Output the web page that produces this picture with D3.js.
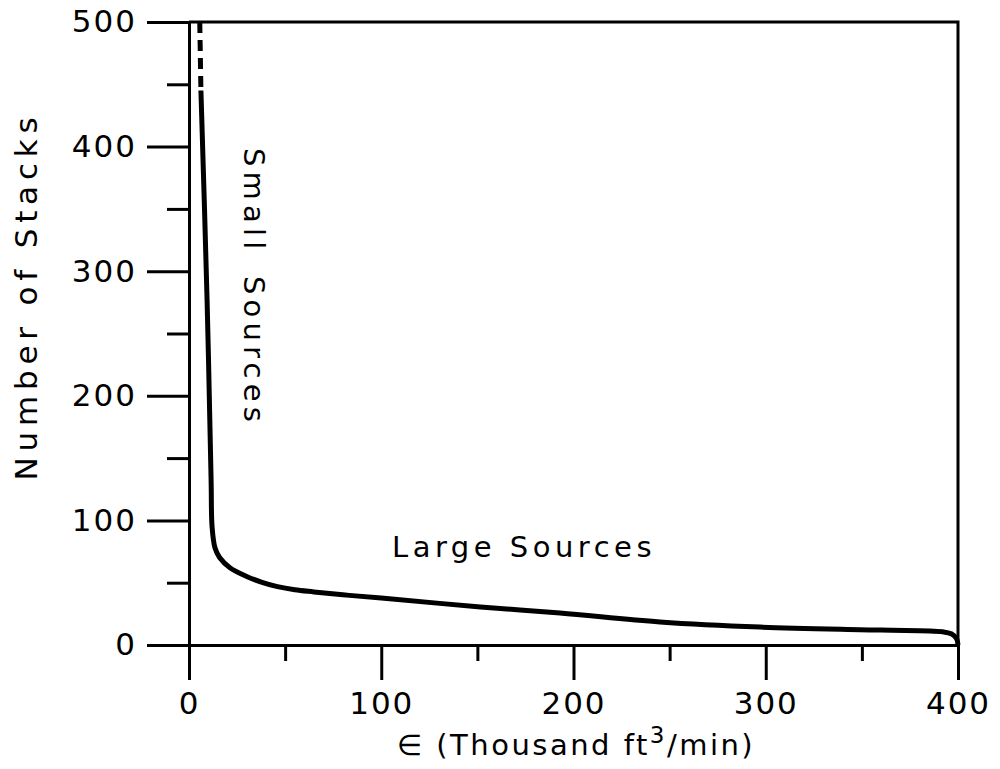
<!DOCTYPE html>
<html>
<head>
<meta charset="utf-8">
<script src="https://cdn.jsdelivr.net/npm/d3@7"></script>
<style>
  body { margin: 0; background: #fff; }
  text { font-family: 'DejaVu Sans', sans-serif; fill: #000; }
</style>
</head>
<body>
<div id="chart"></div>
<script>
;(function () {
  // data: emission rate (thousand ft3/min) vs number of stacks
  var xMajor = [0, 100, 200, 300, 400]
  var xMinor = [50, 150, 250, 350]
  var yMajor = [0, 100, 200, 300, 400, 500]
  var yMinor = [50, 150, 250, 350, 450]

  // dashed part (extrapolated top)
  var dashedEps = [5.6, 6.2]
  var dashedStacks = [500, 445]

  // solid curve
  var curveEps = [6.2, 9.4, 11.5, 12, 13.5, 16, 21.3, 30, 38, 46, 55, 65, 80, 100,
    151.6, 193, 245, 297, 360, 392, 396.5, 399.3, 400]
  var curveStacks = [445, 277, 132, 95, 78, 70, 62, 55, 50.3, 46.8, 44.3, 42.6, 40.3, 37.7,
    30.5, 25.7, 18.5, 14.4, 12, 10.6, 9, 5, 0]

  var width = 1000, height = 769
  var margin = { top: 22, left: 189, right: 42, bottom: 124 }

  var svg = d3.select('#chart').append('svg')
    .attr('width', width).attr('height', height)

  var x = d3.scaleLinear().domain([0, 400]).range([margin.left, width - margin.right])
  var y = d3.scaleLinear().domain([0, 500]).range([height - margin.bottom, margin.top])

  // axes
  svg.append('g').attr('transform', `translate(${x(0)},0)`)
    .call(d3.axisLeft(y).tickValues(yMajor).tickSize(42).tickSizeOuter(0).tickPadding(10))
  svg.append('g').attr('transform', `translate(${x(0)},0)`)
    .call(d3.axisLeft(y).tickValues(yMinor).tickSize(22).tickSizeOuter(0).tickFormat(''))

  svg.append('g').attr('transform', `translate(0,${y(0)})`)
    .call(d3.axisBottom(x).tickValues(xMajor).tickSize(35).tickSizeOuter(0).tickPadding(12))
  svg.append('g').attr('transform', `translate(0,${y(0)})`)
    .call(d3.axisBottom(x).tickValues(xMinor).tickSize(16).tickSizeOuter(0).tickFormat(''))

  svg.selectAll('.domain, .tick line')
    .attr('stroke', '#000').attr('stroke-width', 3)
  svg.selectAll('.tick text')
    .style('font-size', '31px').style('letter-spacing', '2px')

  // frame: top and right
  svg.append('path')
    .attr('d', `M${x(0)},${y(500)}H${x(400)}V${y(0)}`)
    .attr('fill', 'none').attr('stroke', '#000').attr('stroke-width', 3)

  // curve
  var pts = curveEps.map((e, i) => [x(e), y(curveStacks[i])])

  svg.append('path')
    .datum(dashedEps.map((e, i) => [x(e), y(dashedStacks[i])]))
    .attr('d', d3.line())
    .attr('fill', 'none').attr('stroke', '#000').attr('stroke-width', 5)
    .attr('stroke-dasharray', '11,7')

  svg.append('path')
    .datum(pts)
    .attr('d', d3.line().curve(d3.curveCatmullRom.alpha(0.5)))
    .attr('fill', 'none').attr('stroke', '#000').attr('stroke-width', 5)
    .attr('stroke-linejoin', 'round')

  // annotations
  svg.append('text')
    .attr('transform', 'translate(244,148) rotate(90)')
    .style('font-size', '29px').style('letter-spacing', '5.2px').style('word-spacing', '7px')
    .text('Small Sources')

  svg.append('text')
    .attr('x', 392).attr('y', 557)
    .style('font-size', '29px').style('letter-spacing', '4.5px')
    .text('Large Sources')

  // axis titles
  svg.append('text')
    .attr('transform', 'translate(37,296) rotate(-90)')
    .attr('text-anchor', 'middle')
    .style('font-size', '31px').style('letter-spacing', '5.8px')
    .text('Number of Stacks')

  var xt = svg.append('text')
    .attr('x', 576).attr('y', 755)
    .attr('text-anchor', 'middle')
    .style('font-size', '29px').style('letter-spacing', '2.5px')
  xt.append('tspan').text('∈ (Thousand ft')
  xt.append('tspan').attr('dy', -12).style('font-size', '23px').text('3')
  xt.append('tspan').attr('dy', 12).text('/min)')
})()
</script>
</body>
</html>
